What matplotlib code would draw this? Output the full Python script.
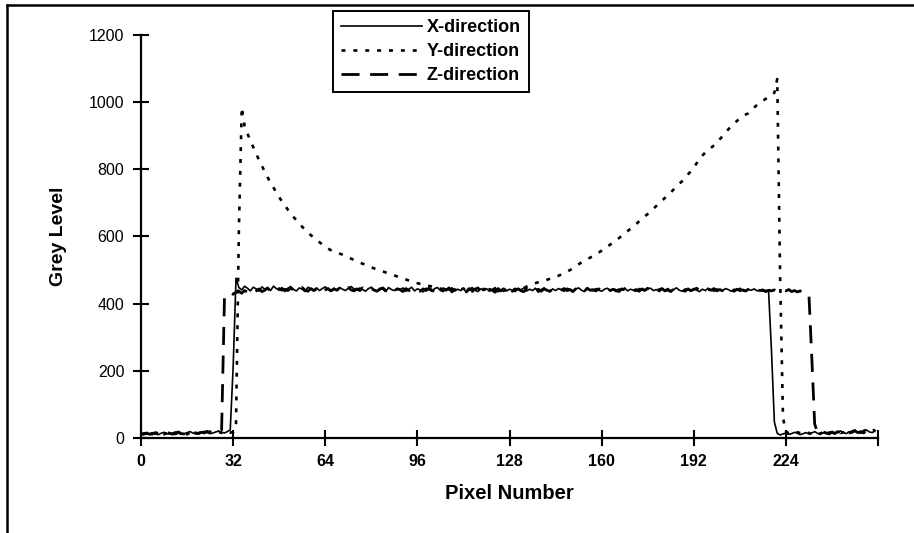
import matplotlib
matplotlib.use("Agg")
import matplotlib.pyplot as plt
import numpy as np
from matplotlib.lines import Line2D

plt.rcParams['font.family'] = ['Liberation Sans', 'DejaVu Sans']

# grey level profiles along the three directions, one value per pixel (0..255)
x_direction = [
    12, 14, 11, 13, 16, 12, 10, 14, 17, 13,
    12, 15, 18, 14, 11, 13, 16, 19, 15, 12,
    14, 17, 20, 16, 13, 15, 18, 21, 17, 15,
    19, 24, 210, 476, 448, 441, 452, 446, 438, 449,
    444, 437, 450, 443, 447, 439, 452, 445, 440, 448,
    436, 446, 451, 442, 438, 447, 443, 436, 449, 444,
    441, 447, 439, 445, 450, 442, 437, 446, 441, 448,
    443, 439, 446, 451, 444, 440, 447, 442, 437, 445,
    449, 441, 438, 446, 443, 436, 448, 442, 439, 445,
    440, 447, 437, 443, 449, 438, 444, 441, 435, 446,
    442, 437, 445, 448, 439, 436, 444, 441, 447, 438,
    443, 439, 446, 433, 441, 448, 440, 436, 444, 439,
    445, 437, 442, 448, 435, 441, 446, 438, 443, 440,
    436, 445, 441, 447, 438, 443, 439, 446, 434, 442,
    447, 440, 436, 444, 439, 445, 441, 437, 446, 442,
    438, 443, 447, 440, 436, 444, 441, 438, 445, 440,
    437, 443, 446, 439, 442, 436, 444, 440, 447, 438,
    443, 440, 437, 445, 441, 438, 444, 446, 439, 442,
    436, 443, 440, 445, 438, 442, 447, 440, 437, 444,
    441, 438, 445, 440, 436, 443, 439, 446, 441, 437,
    444, 440, 438, 445, 442, 437, 443, 440, 446, 439,
    436, 442, 440, 444, 438, 441, 437, 440, 436, 260,
    48, 14, 9, 12, 15, 11, 13, 17, 14, 10,
    13, 16, 12, 15, 19, 14, 11, 16, 13, 18,
    15, 12, 17, 21, 16, 13, 19, 15, 22, 17,
    14, 20, 24, 18, 16, 22,
]

y_direction = [
    14, 11, 16, 13, 12, 15, 17, 13, 11, 14,
    16, 13, 12, 17, 15, 14, 11, 16, 18, 13,
    15, 17, 14, 12, 19, 16, 13, 18, 15, 17,
    20, 16, 18, 40, 620, 985, 928, 906, 886, 866,
    846, 828, 810, 793, 776, 760, 746, 731, 717, 704,
    692, 680, 669, 658, 648, 638, 629, 620, 612, 604,
    597, 590, 583, 576, 570, 564, 559, 555, 552, 549,
    546, 542, 538, 534, 530, 526, 522, 519, 516, 512,
    508, 505, 502, 499, 496, 493, 490, 487, 484, 481,
    478, 475, 472, 469, 466, 463, 461, 459, 457, 455,
    453, 451, 449, 447, 445, 441, 443, 439, 444, 440,
    437, 442, 445, 439, 441, 436, 443, 440, 438, 444,
    441, 437, 443, 439, 446, 440, 438, 442, 436, 441,
    444, 439, 442, 447, 451, 455, 458, 461, 464, 467,
    468, 471, 474, 477, 480, 483, 487, 491, 495, 500,
    505, 511, 517, 523, 528, 533, 537, 541, 546, 552,
    558, 564, 570, 576, 582, 589, 595, 602, 609, 616,
    623, 630, 637, 645, 652, 660, 667, 675, 683, 691,
    699, 707, 715, 723, 731, 740, 748, 757, 765, 775,
    785, 794, 805, 818, 830, 841, 850, 857, 864, 871,
    878, 889, 899, 910, 919, 928, 936, 944, 952, 958,
    963, 967, 975, 984, 992, 998, 1004, 1010, 1015, 1020,
    1028, 1069, 480, 60, 20, 14, 16, 13, 17, 15,
    14, 18, 15, 12, 17, 16, 13, 19, 15, 14,
    18, 16, 20, 15, 17, 21, 16, 19, 23, 18,
    16, 21, 25, 19, 22, 24,
]

z_direction = [
    10, 13, 15, 11, 12, 16, 14, 10, 13, 17,
    14, 11, 15, 18, 13, 12, 16, 14, 19, 15,
    13, 17, 15, 20, 16, 14, 18, 22, 24, 420,
    430, 432, 428, 434, 437, 431, 439, 435, 441, 433,
    438, 444, 436, 440, 447, 435, 442, 438, 445, 440,
    443, 439, 446, 441, 436, 444, 448, 440, 437, 445,
    439, 443, 447, 436, 441, 445, 438, 444, 440, 446,
    437, 442, 448, 441, 438, 444, 439, 447, 443, 436,
    445, 440, 437, 443, 447, 439, 441, 446, 438, 444,
    442, 436, 445, 439, 443, 447, 440, 437, 444, 439,
    446, 440, 436, 443, 438, 445, 440, 447, 435, 442,
    438, 444, 440, 436, 445, 439, 443, 447, 438, 441,
    436, 443, 440, 434, 445, 438, 442, 439, 446, 437,
    441, 444, 438, 436, 443, 440, 446, 439, 443, 437,
    444, 440, 437, 443, 446, 438, 441, 445, 439, 442,
    436, 444, 439, 443, 437, 446, 440, 442, 438, 444,
    441, 437, 445, 439, 443, 440, 436, 444, 441, 438,
    445, 439, 442, 437, 444, 440, 446, 438, 443, 439,
    442, 445, 438, 441, 436, 443, 439, 444, 440, 437,
    444, 439, 442, 446, 438, 441, 437, 443, 440, 445,
    438, 442, 439, 436, 444, 440, 437, 443, 439, 441,
    438, 443, 440, 437, 442, 439, 441, 436, 440, 438,
    441, 437, 435, 440, 438, 442, 436, 439, 435, 438,
    433, 432, 428, 240, 42, 16, 13, 18, 15, 12,
    17, 14, 19, 16, 13, 20, 15, 18, 21, 16,
    19, 15, 22, 25, 18, 21,
]

pixels = np.arange(len(x_direction))

x_ticks = [0, 32, 64, 96, 128, 160, 192, 224, 256]
x_tick_labels = ['0', '32', '64', '96', '128', '160', '192', '224', '']
y_ticks = [0, 200, 400, 600, 800, 1000, 1200]

fig = plt.figure(figsize=(9.14, 5.33), dpi=100)
ax = fig.add_axes([141 / 914, 1 - 438 / 533, (878 - 141) / 914, (438 - 35) / 533])

ax.plot(pixels, x_direction, color='black', lw=1.2, label='X-direction')
ax.plot(pixels, y_direction, color='black', lw=1.9, linestyle=(0, (1.5, 3.0)),
        label='Y-direction')
ax.plot(pixels, z_direction, color='black', lw=2.0, linestyle=(0, (6.5, 3.8)),
        label='Z-direction')

ax.set_xlim(0, 256)
ax.set_ylim(0, 1200)
ax.set_xticks(x_ticks)
ax.set_xticklabels(x_tick_labels, fontweight='bold', fontsize=11.5)
ax.set_yticks(y_ticks)
ax.set_yticklabels([str(v) for v in y_ticks], fontsize=11.5)

for side in ['top', 'right']:
    ax.spines[side].set_visible(False)
for side in ['left', 'bottom']:
    ax.spines[side].set_linewidth(1.6)
    ax.spines[side].set_color('black')
ax.spines['left'].set_zorder(0.5)
ax.tick_params(axis='both', direction='inout', length=11, width=1.5, colors='black')
ax.tick_params(axis='y', pad=6.5)
ax.tick_params(axis='x', pad=6)

ax.set_xlabel('Pixel Number', fontsize=14.5, fontweight='bold', labelpad=11)
ax.set_ylabel('Grey Level', fontsize=14, fontweight='bold', labelpad=16)

leg = fig.legend(loc='upper left', bbox_to_anchor=(333 / 914, 1 - 11 / 533),
                 bbox_transform=fig.transFigure, borderaxespad=0,
                 fancybox=False, framealpha=1, edgecolor='black',
                 prop={'weight': 'bold', 'size': 13},
                 handlelength=4.5, handletextpad=0.25, labelspacing=0.38,
                 borderpad=0.45)
leg.get_frame().set_linewidth(1.4)

# outer border of the chart area (open at right and bottom)
top = 1 - 5 / 533
left = 7 / 914
fig.add_artist(Line2D([left, left], [0, top], transform=fig.transFigure,
                      color='black', lw=1.8))
fig.add_artist(Line2D([left, 1], [top, top], transform=fig.transFigure,
                      color='black', lw=1.8))

fig.savefig('out.png', dpi=100)
